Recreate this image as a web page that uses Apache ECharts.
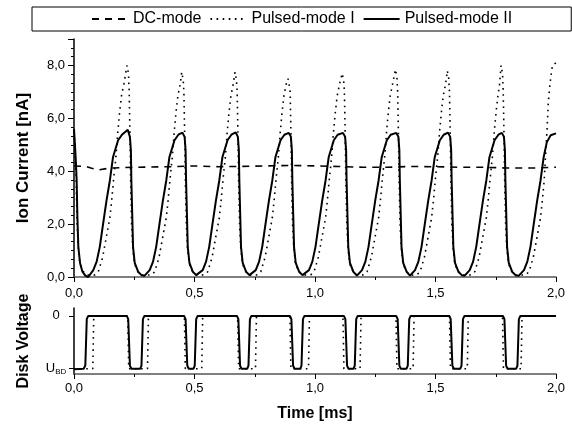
<!DOCTYPE html>
<html>
<head>
<meta charset="utf-8">
<script src="https://cdn.jsdelivr.net/npm/echarts@6/dist/echarts.min.js"></script>
<style>
html,body{margin:0;padding:0;background:#fff;}
#chart{width:572px;height:430px;}
</style>
</head>
<body>
<div id="chart"></div>
<script>
// Series names shown in the legend
const seriesNames = ['DC-mode', 'Pulsed-mode I', 'Pulsed-mode II'];

// Ion current [nA] vs time [ms]
const currentDC = [
  [0.000,4.20],[0.050,4.18],[0.070,4.12],[0.100,4.05],[0.150,4.12],[0.250,4.15],[0.400,4.17],
  [0.500,4.20],[0.600,4.17],[0.800,4.20],[0.900,4.22],[1.000,4.20],[1.100,4.18],[1.200,4.15],
  [1.300,4.15],[1.400,4.18],[1.500,4.17],[1.600,4.15],[1.700,4.15],[1.800,4.12],[1.900,4.12],[2.000,4.15]
];

const currentPulsedI = [
  [0.000,5.50],[0.005,4.60],[0.009,3.66],[0.013,2.00],[0.018,1.10],[0.025,0.50],[0.039,0.20],[0.056,0.07],
  [0.087,0.08],[0.101,0.20],[0.119,0.75],[0.134,1.50],[0.149,2.25],[0.157,2.95],[0.164,3.66],[0.174,4.54],[0.182,5.50],[0.189,6.20],[0.197,6.85],[0.207,7.30],
  [0.220,8.00],[0.226,7.70],[0.229,7.00],[0.231,6.00],[0.233,5.00],[0.235,3.66],[0.239,2.00],[0.244,1.10],[0.251,0.50],[0.265,0.20],[0.283,0.07],
  [0.321,0.08],[0.335,0.20],[0.353,0.75],[0.368,1.50],[0.383,2.25],[0.391,2.95],[0.398,3.66],[0.408,4.54],[0.416,5.50],[0.423,6.20],[0.431,6.85],[0.441,7.30],
  [0.447,7.75],[0.453,7.45],[0.456,7.00],[0.458,6.00],[0.460,5.00],[0.462,3.66],[0.466,2.00],[0.471,1.10],[0.478,0.50],[0.492,0.20],[0.510,0.07],
  [0.541,0.08],[0.555,0.20],[0.573,0.75],[0.588,1.50],[0.603,2.25],[0.611,2.95],[0.618,3.66],[0.628,4.54],[0.636,5.50],[0.643,6.20],[0.651,6.85],[0.661,7.30],
  [0.668,7.75],[0.674,7.45],[0.677,7.00],[0.679,6.00],[0.681,5.00],[0.683,3.66],[0.687,2.00],[0.692,1.10],[0.699,0.50],[0.713,0.20],[0.731,0.07],
  [0.761,0.08],[0.775,0.20],[0.793,0.75],[0.808,1.50],[0.823,2.25],[0.831,2.95],[0.838,3.66],[0.848,4.54],[0.856,5.50],[0.863,6.20],[0.871,6.85],[0.881,7.30],
  [0.888,7.50],[0.894,7.20],[0.897,7.00],[0.899,6.00],[0.901,5.00],[0.903,3.66],[0.907,2.00],[0.912,1.10],[0.919,0.50],[0.933,0.20],[0.951,0.07],
  [0.982,0.08],[0.996,0.20],[1.014,0.75],[1.029,1.50],[1.044,2.25],[1.052,2.95],[1.059,3.66],[1.069,4.54],[1.077,5.50],[1.084,6.20],[1.092,6.85],[1.102,7.30],
  [1.113,7.70],[1.119,7.40],[1.122,7.00],[1.124,6.00],[1.126,5.00],[1.128,3.66],[1.132,2.00],[1.137,1.10],[1.144,0.50],[1.158,0.20],[1.176,0.07],
  [1.202,0.08],[1.216,0.20],[1.234,0.75],[1.249,1.50],[1.264,2.25],[1.272,2.95],[1.279,3.66],[1.289,4.54],[1.297,5.50],[1.304,6.20],[1.312,6.85],[1.322,7.30],
  [1.334,7.85],[1.340,7.55],[1.343,7.00],[1.345,6.00],[1.347,5.00],[1.349,3.66],[1.353,2.00],[1.358,1.10],[1.365,0.50],[1.379,0.20],[1.397,0.07],
  [1.422,0.08],[1.436,0.20],[1.454,0.75],[1.469,1.50],[1.484,2.25],[1.492,2.95],[1.499,3.66],[1.509,4.54],[1.517,5.50],[1.524,6.20],[1.532,6.85],[1.542,7.30],
  [1.549,7.80],[1.555,7.50],[1.558,7.00],[1.560,6.00],[1.562,5.00],[1.564,3.66],[1.568,2.00],[1.573,1.10],[1.580,0.50],[1.594,0.20],[1.612,0.07],
  [1.649,0.08],[1.663,0.20],[1.681,0.75],[1.696,1.50],[1.711,2.25],[1.719,2.95],[1.726,3.66],[1.736,4.54],[1.744,5.50],[1.751,6.20],[1.759,6.85],[1.766,7.30],
  [1.772,8.00],[1.778,7.70],[1.781,7.00],[1.783,6.00],[1.785,5.00],[1.787,3.66],[1.791,2.00],[1.796,1.10],[1.803,0.50],[1.817,0.20],[1.835,0.07],
  [1.874,0.08],[1.888,0.20],[1.906,0.75],[1.921,1.50],[1.936,2.25],[1.944,2.95],[1.951,3.66],[1.958,4.80],[1.963,5.60],[1.968,6.60],[1.975,7.30],[1.985,8.00],[2.000,8.10]
];

const currentPulsedII = [
  [0.000,5.60],[0.004,5.00],[0.008,4.30],[0.011,3.66],[0.014,2.30],[0.018,1.14],[0.025,0.53],[0.035,0.20],[0.047,0.05],[0.059,0.00],
  [0.080,0.26],[0.094,0.58],[0.107,1.14],[0.121,2.03],[0.135,2.90],[0.149,3.66],[0.162,4.54],[0.183,5.17],[0.199,5.38],
  [0.223,5.57],[0.232,5.30],[0.236,4.80],[0.238,3.66],[0.245,1.14],[0.252,0.53],[0.266,0.20],[0.280,0.07],
  [0.293,0.05],[0.314,0.26],[0.328,0.58],[0.341,1.14],[0.355,2.03],[0.369,2.90],[0.383,3.66],[0.396,4.54],[0.417,5.17],[0.433,5.38],
  [0.450,5.46],[0.459,5.30],[0.463,4.80],[0.465,3.66],[0.472,1.14],[0.479,0.53],[0.493,0.20],[0.507,0.07],
  [0.513,0.05],[0.534,0.26],[0.548,0.58],[0.561,1.14],[0.575,2.03],[0.589,2.90],[0.603,3.66],[0.616,4.54],[0.637,5.17],[0.653,5.38],
  [0.671,5.47],[0.680,5.30],[0.684,4.80],[0.686,3.66],[0.693,1.14],[0.700,0.53],[0.714,0.20],[0.728,0.07],
  [0.733,0.05],[0.754,0.26],[0.768,0.58],[0.781,1.14],[0.795,2.03],[0.809,2.90],[0.823,3.66],[0.836,4.54],[0.857,5.17],[0.873,5.38],
  [0.891,5.45],[0.900,5.30],[0.904,4.80],[0.906,3.66],[0.913,1.14],[0.920,0.53],[0.934,0.20],[0.948,0.07],
  [0.954,0.05],[0.975,0.26],[0.989,0.58],[1.002,1.14],[1.016,2.03],[1.030,2.90],[1.044,3.66],[1.057,4.54],[1.078,5.17],[1.094,5.38],
  [1.116,5.45],[1.125,5.30],[1.129,4.80],[1.131,3.66],[1.138,1.14],[1.145,0.53],[1.159,0.20],
  [1.174,0.05],[1.195,0.26],[1.209,0.58],[1.222,1.14],[1.236,2.03],[1.250,2.90],[1.264,3.66],[1.277,4.54],[1.298,5.17],[1.314,5.38],
  [1.337,5.45],[1.346,5.30],[1.350,4.80],[1.352,3.66],[1.359,1.14],[1.366,0.53],[1.380,0.20],
  [1.394,0.05],[1.415,0.26],[1.429,0.58],[1.442,1.14],[1.456,2.03],[1.470,2.90],[1.484,3.66],[1.497,4.54],[1.518,5.17],[1.534,5.38],
  [1.552,5.46],[1.561,5.30],[1.565,4.80],[1.567,3.66],[1.574,1.14],[1.581,0.53],[1.595,0.20],[1.609,0.07],
  [1.621,0.05],[1.642,0.26],[1.656,0.58],[1.669,1.14],[1.683,2.03],[1.697,2.90],[1.711,3.66],[1.724,4.54],[1.745,5.17],[1.761,5.38],
  [1.775,5.45],[1.784,5.30],[1.788,4.80],[1.790,3.66],[1.797,1.14],[1.804,0.53],[1.818,0.20],[1.832,0.07],
  [1.846,0.05],[1.867,0.26],[1.881,0.58],[1.894,1.14],[1.908,2.03],[1.922,2.90],[1.936,3.66],[1.949,4.54],[1.962,5.10],[1.978,5.36],[2.000,5.43]
];

// Disk voltage: 0 = off, -1 = U_BD
const voltagePulsedI = [
  [0.000,-1],[0.078,-1],[0.082,0],[0.223,0],[0.227,-1],[0.305,-1],[0.309,0],
  [0.458,0],[0.462,-1],[0.530,-1],[0.534,0],[0.679,0],[0.683,-1],[0.753,-1],[0.757,0],
  [0.896,0],[0.900,-1],[0.973,-1],[0.977,0],[1.116,0],[1.120,-1],[1.187,-1],[1.191,0],
  [1.336,0],[1.340,-1],[1.407,-1],[1.411,0],[1.558,0],[1.562,-1],[1.632,-1],[1.636,0],
  [1.778,0],[1.782,-1],[1.855,-1],[1.859,0],[2.000,0]
];

const voltagePulsedII = [
  [0.000,-1.01],[0.040,-1.00],[0.047,-0.94],[0.053,-0.06],[0.059,0],
  [0.219,0],[0.225,-0.06],[0.232,-0.94],[0.238,-1],[0.275,-1],[0.280,-0.94],[0.286,-0.06],[0.292,0],
  [0.457,0],[0.463,-0.06],[0.470,-0.94],[0.476,-1],[0.496,-1],[0.501,-0.94],[0.507,-0.06],[0.513,0],
  [0.676,0],[0.682,-0.06],[0.689,-0.94],[0.695,-1],[0.719,-1],[0.724,-0.94],[0.730,-0.06],[0.736,0],
  [0.896,0],[0.902,-0.06],[0.909,-0.94],[0.915,-1],[0.939,-1],[0.944,-0.94],[0.950,-0.06],[0.956,0],
  [1.120,0],[1.126,-0.06],[1.133,-0.94],[1.139,-1],[1.160,-1],[1.165,-0.94],[1.171,-0.06],[1.177,0],
  [1.337,0],[1.343,-0.06],[1.350,-0.94],[1.356,-1],[1.380,-1],[1.385,-0.94],[1.391,-0.06],[1.397,0],
  [1.557,0],[1.563,-0.06],[1.570,-0.94],[1.576,-1],[1.603,-1],[1.608,-0.94],[1.614,-0.06],[1.620,0],
  [1.780,0],[1.786,-0.06],[1.793,-0.94],[1.799,-1],[1.835,-1],[1.840,-0.94],[1.846,-0.06],[1.852,0],
  [2.000,0]
];

// Axis ticks
const timeRange = [0, 2];
const timeStep = 0.5;
const currentRange = [0, 9];
const currentStep = 2;
const voltageLevels = [-1, 0];

const FONT = '"Liberation Sans", Arial, sans-serif';
const comma = v => v.toFixed(1).replace('.', ',');

const styles = {
  dc:  { color: '#000', width: 1.6, type: [7, 6] },
  p1:  { color: '#000', width: 1.6, type: [1.6, 4.5] },
  p2:  { color: '#000', width: 2 }
};

const chart = echarts.init(document.getElementById('chart'), null, { renderer: 'canvas' });

function timeAxis(gridIndex, withName) {
  return {
    type: 'value', gridIndex: gridIndex,
    min: timeRange[0], max: timeRange[1], interval: timeStep,
    axisLine: { show: true, onZero: false, lineStyle: { color: '#555', width: 1.5 } },
    axisTick: { show: true, length: 5, lineStyle: { color: '#000', width: 1 } },
    minorTick: { show: true, splitNumber: 2, length: 3, lineStyle: { color: '#000', width: 1 } },
    splitLine: { show: false },
    axisLabel: { formatter: comma, fontSize: 13, color: '#000', fontFamily: FONT, margin: withName ? 8 : 10 },
    name: withName ? 'Time [ms]' : '',
    nameLocation: 'middle', nameGap: 32,
    nameTextStyle: { fontSize: 16, fontWeight: 'bold', color: '#000', fontFamily: FONT }
  };
}

chart.setOption({
  animation: false,
  backgroundColor: '#fff',
  legend: {
    data: seriesNames,
    left: 32, top: 7,
    padding: [4, 59, 4, 59],
    itemWidth: 36, itemHeight: 14, itemGap: 8,
    borderColor: '#000', borderWidth: 1,
    selectedMode: false,
    itemStyle: { color: 'rgba(0,0,0,0)', borderWidth: 0, opacity: 0 },
    textStyle: { fontSize: 16, color: '#000', fontFamily: FONT }
  },
  grid: [
    { left: 74, right: 16, top: 39, height: 238 },
    { left: 74, right: 16, top: 308, height: 66 }
  ],
  xAxis: [ timeAxis(0, false), timeAxis(1, true) ],
  yAxis: [
    {
      type: 'value', gridIndex: 0,
      min: currentRange[0], max: currentRange[1], interval: currentStep,
      axisLine: { show: true, onZero: false, lineStyle: { color: '#000', width: 1.5 } },
      axisTick: { show: true, length: 6, lineStyle: { color: '#000', width: 1 } },
      minorTick: { show: true, splitNumber: 6, length: 3, lineStyle: { color: '#000', width: 1 } },
      splitLine: { show: false },
      axisLabel: { formatter: comma, fontSize: 13, color: '#000', fontFamily: FONT, margin: 9, showMaxLabel: false },
      name: 'Ion Current [nA]', nameLocation: 'middle', nameGap: 42, nameRotate: 90,
      nameTextStyle: { fontSize: 17, fontWeight: 'bold', color: '#000', fontFamily: FONT }
    },
    {
      type: 'value', gridIndex: 1,
      min: -1.1, max: 0.15,
      axisLine: { show: true, onZero: false, lineStyle: { color: '#000', width: 1.5 } },
      axisTick: { show: true, length: 5, customValues: voltageLevels, lineStyle: { color: '#000', width: 1 } },
      splitLine: { show: false },
      axisLabel: {
        customValues: voltageLevels,
        formatter: v => (v === 0 ? '0' : '{u|U}{s|BD}'),
        align: 'center', margin: 18,
        fontSize: 13, color: '#000', fontFamily: FONT,
        rich: {
          u: { fontSize: 13, fontFamily: FONT, color: '#000' },
          s: { fontSize: 8, fontFamily: FONT, color: '#000', padding: [7, 0, 0, 0] }
        }
      },
      name: 'Disk Voltage', nameLocation: 'middle', nameGap: 42, nameRotate: 90,
      nameTextStyle: { fontSize: 16, fontWeight: 'bold', color: '#000', fontFamily: FONT }
    }
  ],
  series: [
    { name: seriesNames[0], type: 'line', xAxisIndex: 0, yAxisIndex: 0, data: currentDC,
      showSymbol: false, symbol: 'none', lineStyle: styles.dc, itemStyle: { color: '#000' } },
    { name: seriesNames[1], type: 'line', xAxisIndex: 0, yAxisIndex: 0, data: currentPulsedI,
      showSymbol: false, symbol: 'none', lineStyle: styles.p1, itemStyle: { color: '#000' } },
    { name: seriesNames[2], type: 'line', xAxisIndex: 0, yAxisIndex: 0, data: currentPulsedII,
      showSymbol: false, symbol: 'none', lineStyle: styles.p2, itemStyle: { color: '#000' } },
    { name: 'voltage I', type: 'line', xAxisIndex: 1, yAxisIndex: 1, data: voltagePulsedI,
      showSymbol: false, symbol: 'none', lineStyle: styles.p1, itemStyle: { color: '#000' } },
    { name: 'voltage II', type: 'line', xAxisIndex: 1, yAxisIndex: 1, data: voltagePulsedII,
      showSymbol: false, symbol: 'none', lineStyle: styles.p2, itemStyle: { color: '#000' } }
  ]
});
</script>
</body>
</html>
